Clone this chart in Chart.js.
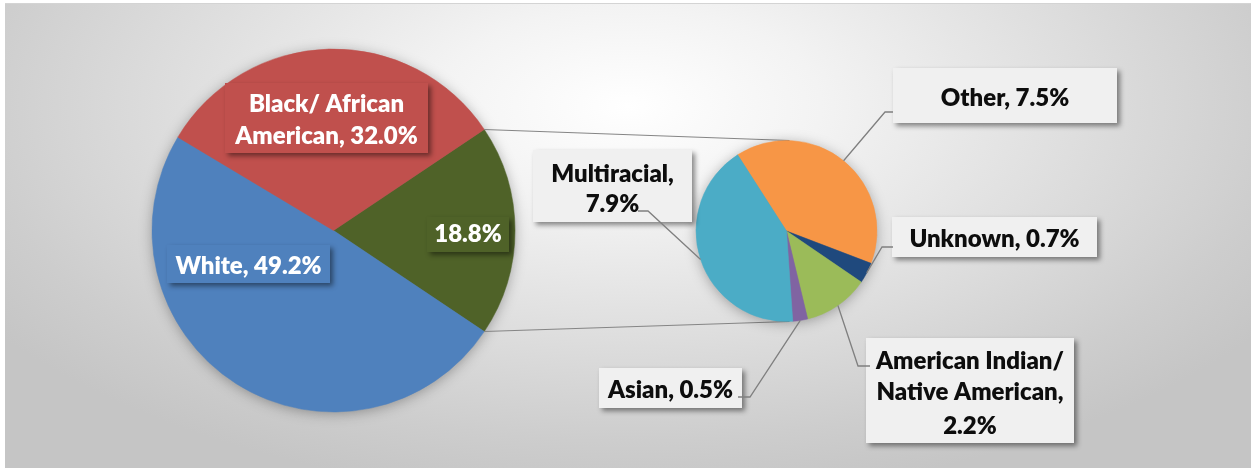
<!DOCTYPE html>
<html><head><meta charset="utf-8">
<script src="https://cdn.jsdelivr.net/npm/chart.js@4.4.1/dist/chart.umd.min.js"></script>
<style>
html,body{margin:0;padding:0;background:#fff;}
#wrap{position:relative;width:1252px;height:469px;overflow:hidden;}
#bg{position:absolute;left:5px;top:3px;width:1246px;height:465px;border-top:1px solid #d4d4d4;box-sizing:border-box;
 background:radial-gradient(ellipse 62% 85% at 50% 22%, #ffffff 0%, #f3f3f3 25%, #e0e0e0 55%, #cdcdcd 85%, #c5c5c5 100%);}
canvas{position:absolute;left:0;top:0;}
</style></head><body>
<div id="wrap"><div id="bg"></div>
<canvas id="main" width="1252" height="469"></canvas>
<canvas id="sub" width="1252" height="469"></canvas></div>
<script>
// ---------- data ----------
const mainCategories = ['Other groups', 'White', 'Black/ African American'];
const mainValues = [18.8, 49.2, 32.0];
const mainShowCategory = [false, true, true];
const subCategories = ['Other', 'Unknown', 'American Indian/ Native American', 'Asian', 'Multiracial'];
const subValues = [7.5, 0.7, 2.2, 0.5, 7.9];

// ---------- styles / layout ----------
const mainColors = ['#4F6228', '#4F81BD', '#C0504D'];
const subColors = ['#F79646', '#1F497D', '#9BBB59', '#8064A2', '#4BACC6'];
const FONT_FAMILY = 'Lato, "Open Sans", sans-serif';
const FONT_WEIGHT = '800';
const mainLabelLayout = [
  {x:427, y:217, w:82,  h:35, lineY:[233], words:null},
  {x:167, y:245, w:163, h:38, lineY:[265], words:null},
  {x:225, y:83,  w:203, h:70, lineY:[103,135], words:[2,2]}
];
const subLabelLayout = [
  {x:893, y:68,  w:224, h:55,  lineY:[97], words:null, elbow:[885,112], end:[893,112]},
  {x:892, y:217, w:205, h:40,  lineY:[238], words:null, elbow:[882,247], end:[893,247]},
  {x:866, y:338, w:208, h:105, lineY:[360,391,425], words:[2,2,1], elbow:[858,366], end:[870,366]},
  {x:599, y:368, w:143, h:40,  lineY:[389], words:null, elbow:[750,397], end:[738,397]},
  {x:533, y:150, w:159, h:72,  lineY:[173,203], words:[1,1], elbow:[648,211], end:[638,211]}
];

function labelLines(text, words){
  if(!words) return [text];
  const parts = text.split(' ');
  const out = []; let i = 0;
  for(const n of words){ out.push(parts.slice(i, i+n).join(' ')); i += n; }
  return out;
}

let fontSize = 20;
function computeFont(ctx){
  ctx.font = FONT_WEIGHT + ' 20px ' + FONT_FAMILY;
  const refs = [['American, 32.0%',183],['Unknown, 0.7%',171],['American Indian/',187],['White, 49.2%',146]];
  let a=0,b=0; refs.forEach(([t,w])=>{a+=ctx.measureText(t).width; b+=w;});
  fontSize = 20*b/a;
}

function drawBox(ctx, L, fill, lines, textColor){
  ctx.save();
  ctx.shadowColor = 'rgba(0,0,0,0.45)';
  ctx.shadowBlur = 5; ctx.shadowOffsetX = 3; ctx.shadowOffsetY = 3;
  ctx.fillStyle = fill;
  ctx.fillRect(L.x, L.y, L.w, L.h);
  ctx.restore();
  ctx.save();
  ctx.fillStyle = textColor;
  ctx.font = FONT_WEIGHT + ' ' + fontSize.toFixed(2) + 'px ' + FONT_FAMILY;
  ctx.textAlign = 'center'; ctx.textBaseline = 'middle';
  lines.forEach((t,i)=> ctx.fillText(t, L.x + L.w/2, L.lineY[i] + 1));
  ctx.restore();
}

function pieShadow(chart){
  const el = chart.getDatasetMeta(0).data[0];
  const {x, y, outerRadius} = el.getProps(['x','y','outerRadius'], true);
  const ctx = chart.ctx;
  ctx.save();
  ctx.shadowColor = 'rgba(0,0,0,0.35)';
  ctx.shadowBlur = 14; ctx.shadowOffsetX = 0; ctx.shadowOffsetY = 2;
  ctx.fillStyle = '#888';
  ctx.beginPath(); ctx.arc(x, y, outerRadius - 1, 0, Math.PI*2); ctx.fill();
  ctx.restore();
}

const mainPlugin = {
  id: 'mainDeco',
  beforeDatasetsDraw(chart){ pieShadow(chart); },
  afterDatasetsDraw(chart){
    const ctx = chart.ctx; computeFont(ctx);
    mainValues.forEach((v,i)=>{
      const txt = (mainShowCategory[i] ? mainCategories[i] + ', ' : '') + v.toFixed(1) + '%';
      drawBox(ctx, mainLabelLayout[i], mainColors[i], labelLines(txt, mainLabelLayout[i].words), '#ffffff');
    });
  }
};

const mainTotal = mainValues.reduce((a,b)=>a+b,0);
const mainChart = new Chart(document.getElementById('main'), {
  type: 'pie',
  data: { labels: mainCategories, datasets: [{ data: mainValues, backgroundColor: mainColors, borderColor: mainColors, borderWidth: 0.5 }] },
  options: {
    responsive: false, animation: false, devicePixelRatio: 1,
    rotation: 90 - (mainValues[0]/mainTotal*360)/2,
    radius: 181.5,
    layout: { padding: { left: 0, right: 585, top: 0, bottom: 8 } },
    plugins: { legend: { display: false }, tooltip: { enabled: false } },
    events: []
  },
  plugins: [mainPlugin]
});

const subPlugin = {
  id: 'subDeco',
  beforeDatasetsDraw(chart){
    const ctx = chart.ctx;
    const g = mainChart.getDatasetMeta(0).data[0].getProps(['x','y','outerRadius','startAngle','endAngle'], true);
    const s = chart.getDatasetMeta(0).data[0].getProps(['x','y','outerRadius'], true);
    ctx.save();
    ctx.strokeStyle = '#858585'; ctx.lineWidth = 1.1;
    ctx.beginPath();
    ctx.moveTo(g.x + g.outerRadius*Math.cos(g.startAngle), g.y + g.outerRadius*Math.sin(g.startAngle));
    ctx.lineTo(s.x + 3, s.y - s.outerRadius);
    ctx.moveTo(g.x + g.outerRadius*Math.cos(g.endAngle), g.y + g.outerRadius*Math.sin(g.endAngle));
    ctx.lineTo(s.x + 3, s.y + s.outerRadius);
    ctx.stroke();
    ctx.restore();
    pieShadow(chart);
  },
  afterDatasetsDraw(chart){
    const ctx = chart.ctx; computeFont(ctx);
    const meta = chart.getDatasetMeta(0);
    subValues.forEach((v,i)=>{
      const L = subLabelLayout[i];
      const txt = subCategories[i] + ', ' + v.toFixed(1) + '%';
      drawBox(ctx, L, '#f0f0f0', labelLines(txt, L.words), '#0d0d0d');
    });
    subValues.forEach((v,i)=>{
      const L = subLabelLayout[i];
      const p = meta.data[i].getProps(['x','y','outerRadius','startAngle','endAngle'], true);
      const m = (p.startAngle + p.endAngle)/2;
      ctx.save();
      ctx.strokeStyle = '#7f7f7f'; ctx.lineWidth = 1.3;
      ctx.beginPath();
      ctx.moveTo(p.x + p.outerRadius*Math.cos(m), p.y + p.outerRadius*Math.sin(m));
      ctx.lineTo(L.elbow[0], L.elbow[1]);
      ctx.lineTo(L.end[0], L.end[1]);
      ctx.stroke();
      ctx.restore();
    });
  }
};

new Chart(document.getElementById('sub'), {
  type: 'pie',
  data: { labels: subCategories, datasets: [{ data: subValues, backgroundColor: subColors, borderColor: subColors, borderWidth: 0.5 }] },
  options: {
    responsive: false, animation: false, devicePixelRatio: 1,
    rotation: 327.3,
    radius: 90.5,
    layout: { padding: { left: 321, right: 0, top: 0, bottom: 7 } },
    plugins: { legend: { display: false }, tooltip: { enabled: false } },
    events: []
  },
  plugins: [subPlugin]
});
</script>
</body></html>
